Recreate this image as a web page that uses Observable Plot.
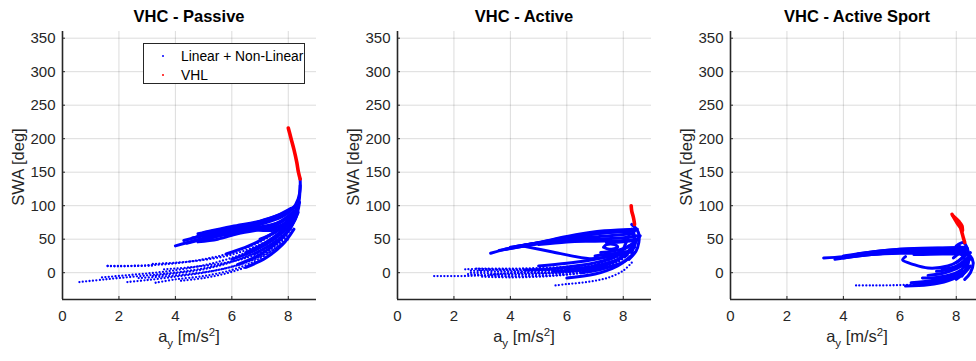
<!DOCTYPE html>
<html><head><meta charset="utf-8">
<script src="https://cdn.jsdelivr.net/npm/d3@7"></script>
<script src="https://cdn.jsdelivr.net/npm/@observablehq/plot@0.6"></script>
<style>
body{margin:0;overflow:hidden;background:#fff;font-family:"Liberation Sans",Arial,sans-serif;}
#fig{position:relative;width:976px;height:361px;overflow:hidden;background:#fff;}
.panel{position:absolute;top:0;width:330px;height:361px;}
.panel svg{position:absolute;left:0;top:0;overflow:visible;}
.title{position:absolute;top:7px;font-weight:bold;font-size:16.5px;color:#000;white-space:nowrap;transform:translateX(-50%);}
.xlab{position:absolute;top:327px;font-size:16.5px;color:#262626;white-space:nowrap;transform:translateX(-50%);}
.xlab sub{font-size:11.5px;vertical-align:-5px;line-height:0;}
.xlab sup{font-size:11.5px;vertical-align:6px;line-height:0;}
.ylab{position:absolute;font-size:16.5px;color:#262626;white-space:nowrap;transform:translate(-50%,-50%) rotate(-90deg);}
.legend{position:absolute;left:143px;top:43px;width:162px;height:41px;box-sizing:border-box;border:1.4px solid #262626;background:#fff;font-size:13.8px;color:#000;}
.legend .mk{position:absolute;width:2.5px;height:2.5px;border-radius:50%;}
.legend .tx{position:absolute;left:37px;transform:translateY(-50%);white-space:nowrap;}
</style>
</head><body>
<div id="fig"></div>
<script>
// ---------- axes / labels ----------
const xDomain = [0, 9];
const yDomain = [-40, 360];
const xTicks = [0, 2, 4, 6, 8];
const yTicks = [0, 50, 100, 150, 200, 250, 300, 350];
const titles = ["VHC - Passive", "VHC - Active", "VHC - Active Sport"];
const yLabel = "SWA [deg]";
const legendLabels = ["Linear + Non-Linear", "VHL"];

// ---------- VHC - Passive (a_y [m/s^2], SWA [deg]) ----------
const passiveRed = [
  [[8.0,216],[8.1,200],[8.2,184],[8.3,165],[8.36,150],[8.42,140]]
];
const passiveDense = [
  [[4.0,40],[4.6,47],[5.3,55],[6.0,62],[7.0,72],[7.8,84],[8.15,95],[8.35,110],[8.42,125],[8.42,140]],
  [[4.3,48],[5.0,56],[6.0,65],[7.0,75],[7.8,88],[8.2,98]],
  [[4.8,55],[5.5,62],[6.5,70],[7.4,80],[8.0,92],[8.3,100]],
  [[4.8,58],[5.8,66],[6.8,74],[7.6,85],[8.1,96]],
  [[4.8,46],[5.5,50],[6.2,58],[7.0,64],[7.6,68],[8.0,78],[8.3,95]],
  [[5.1,50],[6.0,60],[6.8,66],[7.5,70],[8.1,86]],
  [[4.4,44],[5.2,52],[6.2,60],[7.2,68],[7.9,80],[8.3,95]],
  [[5.0,60],[6.0,69],[7.0,77],[7.8,88]],
  [[4.6,52],[5.6,59],[6.6,66],[7.6,74],[8.2,92]],
  [[6.9,64],[7.2,68],[7.6,68],[7.5,64],[7.1,63],[6.9,64]],
  [[6.5,30],[7.2,45],[7.7,60],[8.1,78],[8.35,100],[8.42,130]],
  [[6.8,28],[7.4,42],[7.9,58],[8.25,80],[8.4,105]],
  [[7.0,50],[7.6,62],[8.0,75],[8.3,90]],
  [[6.0,20],[6.8,33],[7.5,50],[8.0,68],[8.3,88]],
  [[6.2,12],[7.0,27],[7.6,45],[8.05,65],[8.35,90]],
  [[5.8,28],[6.6,40],[7.3,55],[7.9,73],[8.3,95]],
  [[6.5,8],[7.2,22],[7.8,42],[8.2,65]]
];
const passiveDotted = [
  [[0.6,-14],[1.5,-10],[2.5,-6],[3.5,-2],[4.5,3],[5.5,11],[6.5,24],[7.3,40],[7.9,60],[8.25,80]],
  [[1.4,-7],[2.5,-3],[3.5,1],[4.5,7],[5.5,16],[6.5,30],[7.3,47],[7.9,66]],
  [[2.3,-14],[3.0,-11],[4.0,-6],[5.0,0],[6.0,9],[7.0,25],[7.7,45],[8.1,65]],
  [[3.3,-15],[4.0,-10],[5.0,-5],[6.0,4],[6.8,17],[7.5,35],[8.0,55]],
  [[3.2,-5],[4.0,-1],[5.0,5],[6.0,16],[7.0,33],[7.8,55]],
  [[3.2,13],[4.0,15],[5.0,19],[6.0,27],[7.0,42],[7.7,58],[8.1,75]],
  [[1.6,10],[2.0,10],[3.0,11],[4.0,14],[5.0,20],[6.0,30],[7.0,46],[7.6,62],[8.0,78],[8.3,95]],
  [[1.6,10],[2.0,9.5],[2.6,10],[3.2,10.5]],
  [[2.7,-8],[3.5,-6],[4.5,-2],[5.5,4],[6.5,15],[7.3,30],[8.0,50]],
  [[3.6,5],[4.5,8],[5.5,13],[6.5,22],[7.4,38],[8.0,58]],
  [[4.2,-12],[5.0,-8],[5.8,-1],[6.6,10],[7.3,26],[7.9,48]]
];

// ---------- VHC - Active ----------
const activeRed = [
  [[8.28,100],[8.3,92],[8.35,84],[8.38,78],[8.4,72]]
];
const activeDense = [
  [[3.3,29],[4.0,37],[5.0,45],[6.0,54],[7.0,61],[8.0,64],[8.5,65]],
  [[3.6,33],[4.5,40],[5.5,47],[6.5,52],[7.5,55],[8.3,58]],
  [[4.0,38],[5.0,44],[6.0,48],[7.0,50],[8.0,52],[8.5,55]],
  [[3.8,35],[4.8,42],[5.8,50],[6.8,57],[7.8,61],[8.4,62]],
  [[4.2,39],[5.2,46],[6.2,53],[7.2,59],[8.2,62]],
  [[4.5,41],[5.5,49],[6.5,56],[7.5,61],[8.4,64]],
  [[5.0,42],[6.0,46],[7.0,47],[8.0,48],[8.5,50]],
  [[4.4,40],[5.5,31],[6.8,21],[7.5,24],[8.1,30],[8.4,38]],
  [[7.3,38],[7.4,42],[7.7,42],[7.8,38],[7.5,35],[7.3,38]],
  [[7.2,30],[7.6,32],[8.0,36],[8.4,45]],
  [[7.0,25],[7.5,28],[8.0,30],[8.3,33]],
  [[7.4,45],[7.9,46],[8.4,48]],
  [[7.9,25],[8.0,35],[8.1,45],[8.2,55]],
  [[8.2,20],[8.45,32],[8.55,45],[8.55,58],[8.45,66],[8.3,72]],
  [[8.1,25],[8.3,40],[8.4,55],[8.3,65]],
  [[8.3,30],[8.5,50],[8.6,55]],
  [[5.0,10],[6.0,14],[7.0,20],[7.8,30],[8.3,42]],
  [[6.0,5],[7.0,10],[7.8,20],[8.3,35]],
  [[6.5,0],[7.3,6],[8.0,16],[8.4,30]],
  [[5.5,2],[6.5,4],[7.3,10],[8.0,24],[8.4,42]],
  [[4.5,4],[5.5,6],[6.5,11],[7.3,18],[8.0,30]],
  [[6.0,-8],[7.0,-2],[7.8,10],[8.3,25]]
];
const activeDotted = [
  [[1.3,-5],[2.3,-5],[3.0,-4],[4.0,-3],[5.0,-2],[6.0,0],[7.0,5],[7.7,15],[8.1,28],[8.4,45]],
  [[2.4,5],[3.0,6],[4.0,6],[5.0,7],[6.0,9],[7.0,14],[7.7,22],[8.2,35]],
  [[2.5,-2],[3.5,-5],[4.5,-5],[5.5,-4],[6.5,0],[7.3,8],[8.0,22],[8.4,40]],
  [[2.6,3],[3.5,2],[4.5,2],[5.5,3],[6.5,7],[7.3,15],[8.0,30]],
  [[3.0,-6],[4.0,-7],[5.0,-6],[6.0,-3],[7.0,3],[7.8,15],[8.3,32]],
  [[5.6,-19],[6.0,-17],[6.5,-15],[7.0,-12],[7.5,-7],[8.0,3],[8.3,15]],
  [[2.8,6],[3.8,4],[4.8,4],[5.8,5],[6.8,10],[7.6,20],[8.2,33]],
  [[3.3,-3],[4.3,0],[5.3,0],[6.3,2],[7.2,8],[7.9,20]],
  [[2.6,0],[3.6,-1],[4.6,-1],[5.6,0],[6.6,3]],
  [[2.9,4],[3.9,5],[4.9,5],[5.9,6]]
];

// ---------- VHC - Active Sport ----------
const sportRed = [
  [[7.85,87],[7.95,80],[8.05,73],[8.15,67],[8.2,60],[8.25,52],[8.3,45]],
  [[7.9,84],[8.1,76],[8.2,70],[8.22,63]]
];
const sportDense = [
  [[3.3,22],[4.0,24],[5.0,30],[6.0,34],[7.0,35],[8.0,35],[8.4,34]],
  [[3.7,20],[4.5,25],[5.5,29],[6.5,31],[7.5,32],[8.3,31]],
  [[4.0,22],[5.0,27],[6.0,29],[7.0,29],[8.0,30]],
  [[4.5,28],[5.5,33],[6.5,36],[7.5,37],[8.3,38]],
  [[4.0,25],[5.0,31],[6.0,35],[7.0,36],[8.0,37],[8.4,36]],
  [[4.2,24],[5.2,29],[6.2,32],[7.2,33],[8.2,33]],
  [[5.0,29],[6.0,31],[7.0,32],[8.0,32]],
  [[6.5,27],[7.5,28],[8.3,28]],
  [[6.2,24],[6.1,19],[6.5,12],[7.0,7],[7.7,10],[8.1,18],[8.3,25]],
  [[8.0,40],[8.25,45],[8.4,35],[8.45,20],[8.35,5],[8.2,-5]],
  [[8.1,30],[8.3,20],[8.2,10]],
  [[8.0,15],[8.3,25],[8.5,30]],
  [[7.9,22],[8.2,30],[8.5,25],[8.6,15],[8.5,0],[8.3,-10]],
  [[8.0,-10],[8.3,0],[8.5,10]],
  [[8.1,40],[8.35,30],[8.5,20]],
  [[6.2,-20],[7.0,-18],[7.7,-12],[8.2,-2],[8.4,10]],
  [[6.5,-18],[7.2,-14],[7.8,-8],[8.3,2]],
  [[6.4,-15],[7.1,-12],[7.7,-6],[8.2,3]],
  [[6.8,-8],[7.3,-7],[7.8,-3],[8.2,5],[8.4,15]],
  [[7.2,-10],[7.7,-5],[8.2,0]],
  [[7.0,-4],[7.6,0],[8.1,8],[8.4,20]],
  [[7.3,2],[7.8,5],[8.3,12]],
  [[7.5,5],[8.0,10],[8.4,22]]
];
const sportDotted = [
  [[4.45,-19],[5.0,-19],[6.0,-18.5],[7.0,-16],[7.7,-10],[8.2,0]]
];

// ---------- build ----------
const toRows = traces => traces.flatMap((t, i) => t.map(([x, y]) => ({x, y, id: i})));
const blue = "#0000ff", red = "#ff0000", ink = "#262626";
const W = 330, H = 361, plotW = 254, mt = 31, mb = 62;

const panels = [
  {left: 0, ml: 62, title: titles[0], red: passiveRed, dense: passiveDense, dotted: passiveDotted, legend: true},
  {left: 330, ml: 67, title: titles[1], red: activeRed, dense: activeDense, dotted: activeDotted},
  {left: 660, ml: 70, title: titles[2], red: sportRed, dense: sportDense, dotted: sportDotted}
];

const fig = document.getElementById("fig");
for (const p of panels) {
  const div = document.createElement("div");
  div.className = "panel";
  div.style.left = p.left + "px";
  const chart = Plot.plot({
    width: W, height: H,
    marginLeft: p.ml, marginRight: W - p.ml - plotW, marginTop: mt, marginBottom: mb,
    style: {fontFamily: '"Liberation Sans", Arial, sans-serif', fontSize: "15px", color: ink, background: "transparent", overflow: "visible"},
    x: {domain: xDomain, label: null},
    y: {domain: yDomain, label: null},
    marks: [
      Plot.gridX(xTicks, {stroke: "#000", strokeOpacity: 0.14, strokeWidth: 1}),
      Plot.gridY(yTicks, {stroke: "#000", strokeOpacity: 0.14, strokeWidth: 1}),
      Plot.line(toRows(p.dotted), {x: "x", y: "y", z: "id", curve: "catmull-rom", stroke: blue, strokeWidth: 2.3, strokeDasharray: "0,3.4", strokeLinecap: "round"}),
      Plot.line(toRows(p.dense), {x: "x", y: "y", z: "id", curve: "catmull-rom", stroke: blue, strokeWidth: 3, strokeLinecap: "round", strokeLinejoin: "round"}),
      Plot.line(toRows(p.red), {x: "x", y: "y", z: "id", curve: "catmull-rom", stroke: red, strokeWidth: 3.6, strokeLinecap: "round"}),
      Plot.axisX(xTicks, {tickSize: -3, tickPadding: 14, stroke: ink, strokeWidth: 1, fill: ink}),
      Plot.axisY(yTicks, {tickSize: -3, tickPadding: 10, stroke: ink, strokeWidth: 1, fill: ink}),
      Plot.ruleX([xDomain[0]], {stroke: ink, strokeWidth: 1.6}),
      Plot.ruleY([yDomain[0]], {stroke: ink, strokeWidth: 1.6})
    ]
  });
  div.appendChild(chart);
  const cx = p.ml + plotW / 2;
  const t = document.createElement("div");
  t.className = "title"; t.style.left = cx + "px"; t.textContent = p.title;
  div.appendChild(t);
  const xl = document.createElement("div");
  xl.className = "xlab"; xl.style.left = cx + "px";
  xl.innerHTML = "a<sub>y</sub> [m/s<sup>2</sup>]";
  div.appendChild(xl);
  const yl = document.createElement("div");
  yl.className = "ylab"; yl.style.left = (p.ml - 44) + "px"; yl.style.top = (mt + (H - mt - mb) / 2 + 2) + "px";
  yl.textContent = yLabel;
  div.appendChild(yl);
  if (p.legend) {
    const lg = document.createElement("div");
    lg.className = "legend";
    [[blue, 12], [red, 31]].forEach(([c, y], i) => {
      const mk = document.createElement("div");
      mk.className = "mk"; mk.style.background = c; mk.style.left = "17.5px"; mk.style.top = (y - 1.2) + "px";
      const tx = document.createElement("div");
      tx.className = "tx"; tx.style.top = y + "px"; tx.textContent = legendLabels[i];
      lg.appendChild(mk); lg.appendChild(tx);
    });
    div.appendChild(lg);
  }
  fig.appendChild(div);
}
</script>
</body></html>
